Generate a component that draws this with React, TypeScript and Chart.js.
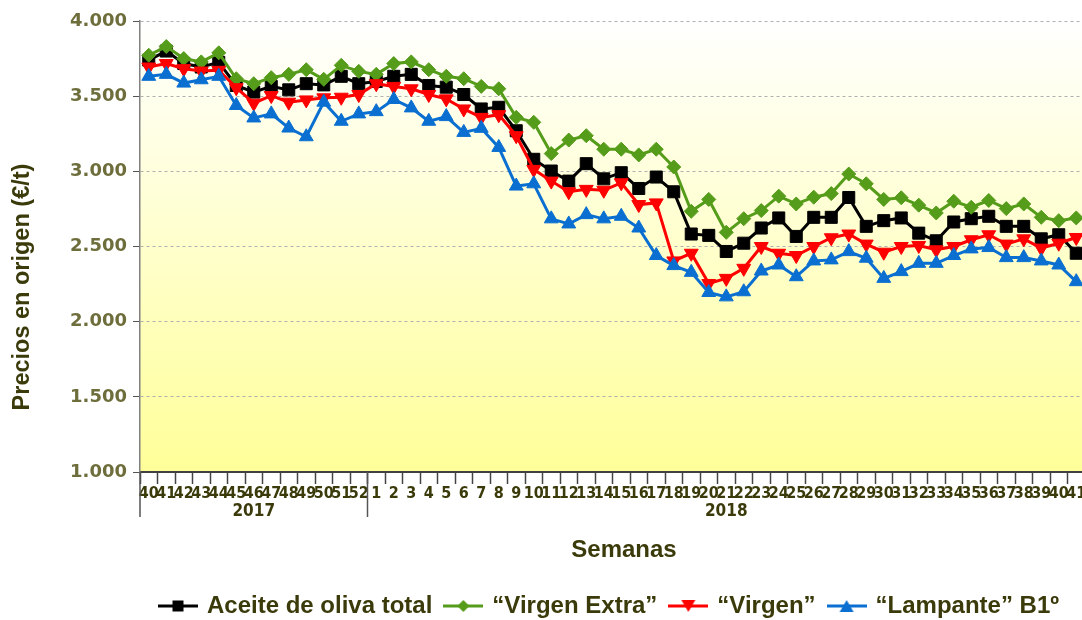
import React, { useEffect, useRef } from 'react';
import { Chart, registerables } from 'chart.js';

Chart.register(...registerables);

// ---------- data ----------
const weeks2017 = ['40', '41', '42', '43', '44', '45', '46', '47', '48', '49', '50', '51', '52'];
const weeks2018 = [
  '1', '2', '3', '4', '5', '6', '7', '8', '9', '10', '11', '12', '13', '14', '15', '16', '17', '18', '19', '20',
  '21', '22', '23', '24', '25', '26', '27', '28', '29', '30', '31', '32', '33', '34', '35', '36', '37', '38', '39', '40', '41',
];
const weekLabels = [...weeks2017, ...weeks2018];
const yearLabels = ['2017', '2018'];
const yearGroupSizes = [weeks2017.length, weeks2018.length];

const seriesNames = ['Aceite de oliva total', '\u201CVirgen Extra\u201D', '\u201CVirgen\u201D', '\u201CLampante\u201D B1\u00BA'];

const aceiteTotal = [
  3740, 3800, 3717, 3694, 3725, 3571, 3527, 3565, 3542, 3583, 3575, 3632, 3583,
  3598, 3632, 3645, 3571, 3560, 3511, 3415, 3426, 3270, 3080, 3002, 2935, 3051, 2950, 2991, 2886,
  2962, 2864, 2583, 2574, 2467, 2522, 2623, 2690, 2567, 2694, 2694, 2826, 2634, 2672, 2690, 2589,
  2538, 2663, 2685, 2701, 2634, 2634, 2551, 2578, 2455,
];
const virgenExtra = [
  3772, 3830, 3750, 3728, 3788, 3616, 3583, 3623, 3645, 3676, 3612, 3705, 3665,
  3645, 3717, 3728, 3676, 3632, 3616, 3565, 3549, 3359, 3326, 3118, 3208, 3237, 3147, 3147, 3109,
  3147, 3029, 2734, 2813, 2594, 2685, 2739, 2835, 2783, 2828, 2852, 2982, 2917, 2813, 2824, 2775,
  2723, 2801, 2761, 2806, 2752, 2783, 2694, 2672, 2690,
];
const virgen = [
  3694, 3717, 3683, 3667, 3672, 3556, 3453, 3504, 3460, 3475, 3489, 3493, 3511,
  3583, 3565, 3549, 3511, 3482, 3415, 3359, 3377, 3237, 3013, 2935, 2864, 2880, 2874, 2924, 2779,
  2790, 2404, 2455, 2254, 2288, 2355, 2500, 2455, 2440, 2500, 2558, 2583, 2516, 2462, 2500, 2507,
  2478, 2500, 2545, 2578, 2516, 2551, 2489, 2522, 2560,
];
const lampante = [
  3632, 3645, 3587, 3609, 3632, 3438, 3355, 3382, 3288, 3230, 3460, 3333, 3382,
  3397, 3478, 3422, 3333, 3364, 3259, 3286, 3159, 2902, 2917, 2684, 2650, 2712, 2684, 2701, 2623,
  2440, 2373, 2328, 2194, 2165, 2199, 2337, 2377, 2299, 2404, 2411, 2466, 2422, 2288, 2333, 2388,
  2388, 2440, 2484, 2493, 2426, 2426, 2404, 2377, 2266,
];

const yMin = 1000;
const yMax = 4000;
const yStep = 500;
const yTitle = 'Precios en origen (\u20AC/t)';
const xTitle = 'Semanas';

// ---------- styles ----------
const COLORS = ['#000000', '#559c1a', '#ff0000', '#0a6fd0'];
const SHAPES = ['square', 'diamond', 'down', 'up'];
const DARK_TEXT = '#3a3a0a';
const TICK_TEXT = '#6e6e3c';
const W = 1220;
const H = 628;
const PLOT_RIGHT = 1085;

function makeIcon(color: string, shape: string) {
  const c = document.createElement('canvas');
  c.width = 40;
  c.height = 18;
  const g = c.getContext('2d') as CanvasRenderingContext2D;
  g.strokeStyle = color;
  g.lineWidth = 3;
  g.beginPath();
  g.moveTo(0, 9);
  g.lineTo(40, 9);
  g.stroke();
  g.fillStyle = color;
  g.beginPath();
  if (shape === 'square') g.rect(14.5, 3.5, 11, 11);
  else if (shape === 'diamond') {
    g.moveTo(20, 3); g.lineTo(26, 9); g.lineTo(20, 15); g.lineTo(14, 9);
  } else if (shape === 'down') {
    g.moveTo(13, 3); g.lineTo(27, 3); g.lineTo(20, 15);
  } else {
    g.moveTo(20, 3); g.lineTo(27, 15); g.lineTo(13, 15);
  }
  g.closePath();
  g.fill();
  return c;
}

const bgPlugin = {
  id: 'plotBg',
  beforeDraw(chart: any) {
    const { ctx, chartArea: a } = chart;
    const grad = ctx.createLinearGradient(0, a.top, 0, a.bottom);
    grad.addColorStop(0, '#ffffff');
    grad.addColorStop(1, '#ffff99');
    ctx.save();
    ctx.fillStyle = grad;
    ctx.fillRect(a.left, a.top, a.right - a.left, a.bottom - a.top);
    ctx.restore();
  },
};

const groupPlugin = {
  id: 'yearGroups',
  afterDraw(chart: any) {
    const x = chart.scales.x;
    const ctx = chart.ctx;
    const half = (x.getPixelForValue(1) - x.getPixelForValue(0)) / 2;
    let start = 0;
    ctx.save();
    ctx.strokeStyle = '#555555';
    ctx.lineWidth = 1.5;
    ctx.fillStyle = DARK_TEXT;
    ctx.font = "bold 17px 'Liberation Sans Narrow', 'DejaVu Sans Condensed', sans-serif";
    ctx.textAlign = 'center';
    ctx.textBaseline = 'middle';
    yearGroupSizes.forEach((n, gi) => {
      const left = x.getPixelForValue(start) - half;
      const right = x.getPixelForValue(start + n - 1) + half;
      ctx.beginPath();
      ctx.moveTo(left, x.top);
      ctx.lineTo(left, x.top + 45);
      ctx.stroke();
      ctx.fillText(yearLabels[gi], (left + right) / 2, x.top + 40);
      start += n;
    });
    // axis titles
    ctx.font = "bold 24px 'Liberation Sans', Arial, sans-serif";
    ctx.fillText(xTitle, 624, 550);
    ctx.translate(23, 287);
    ctx.rotate(-Math.PI / 2);
    ctx.font = "bold 23.5px 'Liberation Sans', Arial, sans-serif";
    ctx.fillText(yTitle, 0, 0);
    ctx.restore();
  },
};

export default function App() {
  const ref = useRef<HTMLCanvasElement | null>(null);

  useEffect(() => {
    if (!ref.current) return;
    const icons = COLORS.map((c, i) => makeIcon(c, SHAPES[i]));
    const values = [aceiteTotal, virgenExtra, virgen, lampante];
    const pointStyles = ['rect', 'rectRot', 'triangle', 'triangle'];
    const radii = [8.5, 7, 8, 8];
    const rotations = [0, 0, 180, 0];

    const chart = new Chart(ref.current, {
      type: 'line',
      data: {
        labels: weekLabels,
        datasets: values.map((v, i) => ({
          label: seriesNames[i],
          data: v,
          yAxisID: 'y',
          xAxisID: 'x',
          borderColor: COLORS[i],
          backgroundColor: COLORS[i],
          borderWidth: 3,
          pointStyle: pointStyles[i] as any,
          pointRadius: radii[i],
          pointRotation: rotations[i],
          pointBorderWidth: 1,
          pointBorderColor: COLORS[i],
          pointBackgroundColor: COLORS[i],
          tension: 0,
          order: 4 - i,
        })),
      },
      options: {
        responsive: false,
        animation: false,
        layout: { padding: { top: 21, right: 0, left: 0, bottom: 0 } },
        plugins: {
          tooltip: { enabled: false },
          legend: {
            position: 'bottom',
            labels: {
              usePointStyle: true,
              pointStyleWidth: 34,
              padding: 14,
              color: DARK_TEXT,
              font: { family: "'Liberation Sans', Arial, sans-serif", weight: 'bold', size: 24 },
              sort: (a: any, b: any) => a.datasetIndex - b.datasetIndex,
              generateLabels: (ch: any) => {
                const items = (Chart.defaults.plugins.legend.labels as any).generateLabels(ch);
                return items.map((it: any) => ({
                  ...it,
                  pointStyle: icons[it.datasetIndex],
                  rotation: 0,
                  fontColor: DARK_TEXT,
                }));
              },
            },
          },
        },
        scales: {
          x: {
            type: 'category',
            offset: true,
            grid: {
              offset: true,
              drawOnChartArea: false,
              tickLength: 12,
              tickColor: '#444444',
              tickWidth: 1.5,
            },
            border: { color: '#404040', width: 2 },
            ticks: {
              autoSkip: false,
              maxRotation: 0,
              minRotation: 0,
              padding: 0,
              color: DARK_TEXT,
              font: { family: "'Liberation Sans Narrow', 'DejaVu Sans Condensed', sans-serif", weight: 'bold', size: 16 },
            },
            afterFit: (s: any) => {
              s.height = 108;
            },
          },
          y: {
            min: yMin,
            max: yMax,
            ticks: {
              stepSize: yStep,
              padding: 6,
              color: TICK_TEXT,
              font: { family: "'DejaVu Sans', sans-serif", weight: 'bold', size: 18 },
              callback: (v: any) => (Number(v) / 1000).toFixed(3),
            },
            grid: { color: '#b0b0b0', lineWidth: 1, tickColor: '#555555', tickLength: 7 },
            border: { dash: [3, 3], color: '#808080', width: 1.5 },
            afterFit: (s: any) => {
              s.width = 140;
            },
          },
          yPad: {
            type: 'linear',
            position: 'right',
            display: true,
            ticks: { display: false },
            grid: { display: false, drawTicks: false },
            border: { display: false },
            afterFit: (s: any) => {
              s.width = W - PLOT_RIGHT;
            },
          },
        },
      },
      plugins: [bgPlugin, groupPlugin],
    } as any);
    return () => chart.destroy();
  }, []);

  return (
    <div style={{ position: 'fixed', left: 0, top: 0, width: 1082, height: 620, overflow: 'hidden', background: '#ffffff' }}>
      <canvas ref={ref} width={W} height={H} style={{ display: 'block', width: W, height: H }} />
    </div>
  );
}
